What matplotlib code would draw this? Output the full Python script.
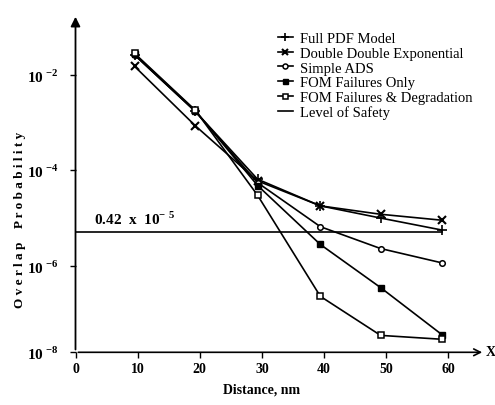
import matplotlib.pyplot as plt

plt.rcParams['font.family'] = 'Liberation Serif'
plt.rcParams['mathtext.fontset'] = 'custom'
plt.rcParams['mathtext.rm'] = 'Liberation Serif'
plt.rcParams['mathtext.bf'] = 'Liberation Serif:bold'

# distance points (nm), as placed on the chart
distance = [9.5, 19.3, 29.3, 39.4, 49.1, 59.0]

full_pdf = [2.6e-2, 1.7e-3, 6.5e-5, 1.8e-5, 1.0e-5, 5.6e-6]
double_exp = [1.5e-2, 8.5e-4, 6.0e-5, 1.8e-5, 1.2e-5, 9.0e-6]
simple_ads = [2.6e-2, 1.7e-3, 5.5e-5, 6.6e-6, 2.3e-6, 1.15e-6]
fom_only = [2.7e-2, 1.75e-3, 4.8e-5, 2.8e-6, 3.5e-7, 3.6e-8]
fom_degr = [2.8e-2, 1.8e-3, 3.0e-5, 2.3e-7, 3.5e-8, 2.9e-8]
safety_level = 5.1e-6

xticks = [0, 10, 20, 30, 40, 50, 60]
yticks = [1e-2, 1e-4, 1e-6, 10 ** -7.81]
ytick_labels = [r'$\mathbf{10}^{\ \mathbf{-2}}$', r'$\mathbf{10}^{\ \mathbf{-4}}$',
                r'$\mathbf{10}^{\ \mathbf{-6}}$', r'$\mathbf{10}^{\ \mathbf{-8}}$']

fig = plt.figure(figsize=(4.95, 4.06), dpi=100)
ax = fig.add_axes([75.5 / 495, 1 - 353.3 / 406, (485 - 75.5) / 495, (353.3 - 15) / 406])

kw = dict(color='black', linewidth=1.2)
ax.plot(distance, full_pdf, marker='+', markersize=7, mew=1.2, label='Full PDF Model', **kw)
ax.plot(distance, double_exp, marker='x', markersize=5.5, mew=1.5, label='Double Double Exponential', **kw)
ax.plot(distance, simple_ads, marker='o', markersize=4, mfc='white', mew=1.1, label='Simple ADS', **kw)
ax.plot(distance, fom_only, marker='s', markersize=4, mfc='black', label='FOM Failures Only', **kw)
ax.plot(distance, fom_degr, marker='s', markersize=4, mfc='white', mew=1.1, label='FOM Failures & Degradation', **kw)
ax.plot([0, 59.0], [safety_level, safety_level], label='Level of Safety', **kw)

ax.set_yscale('log')
ax.set_xlim(0, 65.9)
ax.set_ylim(10 ** -7.81, 10 ** -0.729)

ax.set_xticks(xticks)
ax.set_xticklabels([str(t) for t in xticks], fontsize=10, fontweight='bold')
ax.set_yticks(yticks)
ax.set_yticklabels(ytick_labels, fontsize=11)
ax.minorticks_off()
ax.tick_params(axis='both', direction='out', length=4, width=1)
ax.tick_params(axis='y', pad=8)
ax.tick_params(axis='x', pad=3)

for s in ['top', 'right', 'left', 'bottom']:
    ax.spines[s].set_visible(False)
ax.annotate('', xy=(0, 1.0), xytext=(0, 0), xycoords='axes fraction',
            arrowprops=dict(arrowstyle='-|>', color='black', lw=1.3, mutation_scale=14))
ax.annotate('', xy=(1.0, 0), xytext=(0, 0), xycoords='axes fraction',
            arrowprops=dict(arrowstyle='->', color='black', lw=1.2, mutation_scale=12))
fig.text(486 / 495, 1 - 352 / 406, 'X', fontsize=10, fontweight='bold', va='center', ha='left')

ax.text(3, 6.6e-6, r'0.42  x  10$^{\mathbf{-\ 5}}$', fontsize=11, fontweight='bold', va='bottom')

ax.set_xlabel('Distance, nm', fontsize=10, fontweight='bold')
ax.xaxis.set_label_coords(30 / 65.9, -0.09)
fig.text(20 / 495, 1 - 220 / 406, 'O v e r l a p    P r o b a b i l i t y', rotation=90,
         fontsize=9.5, fontweight='bold', ha='center', va='center')

ax.legend(loc='upper left', bbox_to_anchor=(278 / 495, 1 - 33 / 406), bbox_transform=fig.transFigure,
          frameon=False, fontsize=10.5, handlelength=1.0, handletextpad=0.5,
          labelspacing=0.1, borderpad=0, borderaxespad=0, markerscale=0.9)

fig.savefig('out.png', dpi=100)
